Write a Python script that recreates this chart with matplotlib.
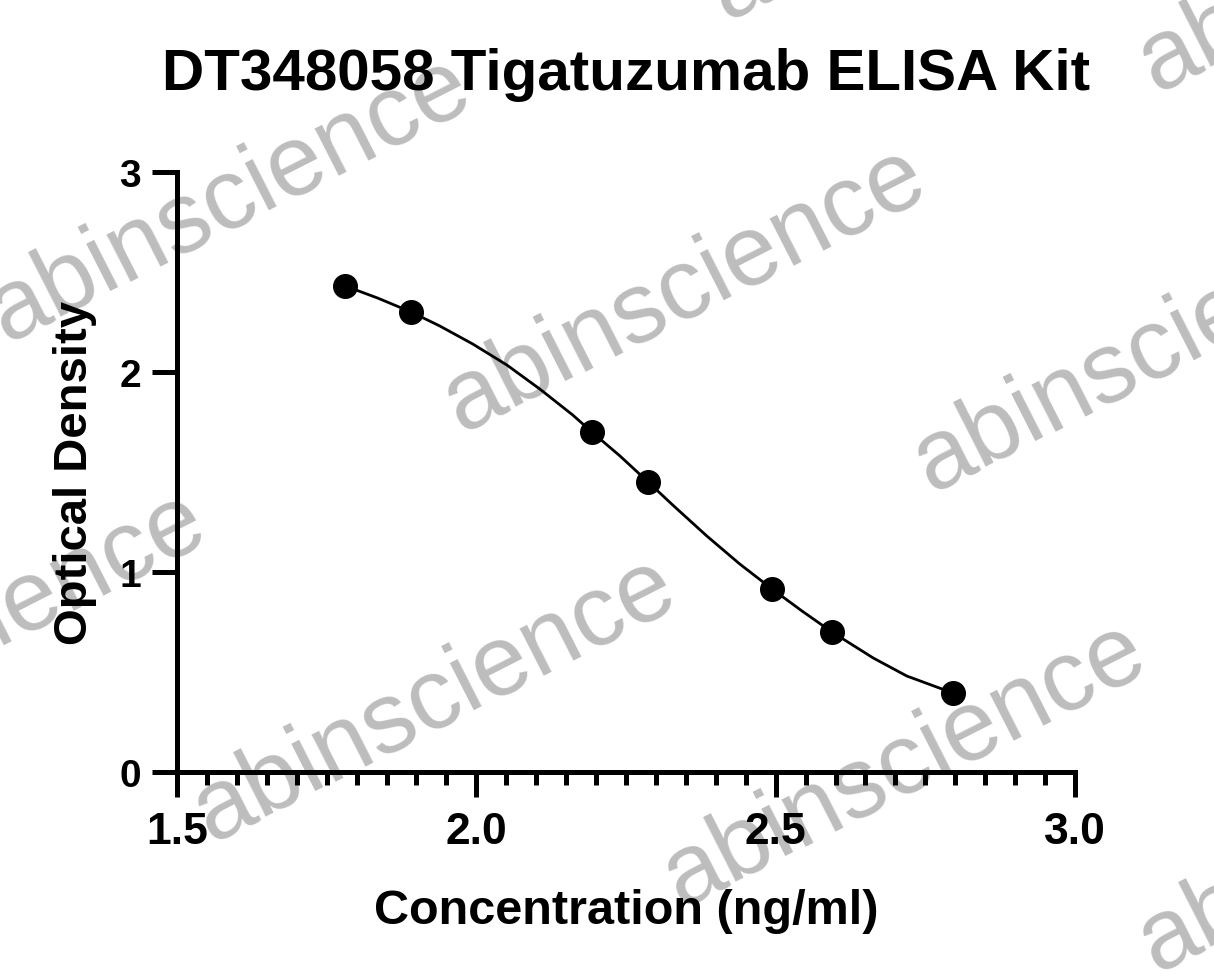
import numpy as np
import matplotlib.pyplot as plt
from matplotlib.ticker import MultipleLocator

# standard points (log concentration, OD)
conc_log = [1.781, 1.891, 2.193, 2.287, 2.494, 2.594, 2.796]
od = [2.43, 2.30, 1.70, 1.45, 0.915, 0.70, 0.395]

# fitted curve
curve_x = [1.781, 1.835, 1.891, 1.939, 1.994, 2.051, 2.106, 2.161, 2.193, 2.24,
           2.287, 2.328, 2.385, 2.440, 2.494, 2.544, 2.594, 2.663, 2.719, 2.796]
curve_y = [2.43, 2.37, 2.30, 2.23, 2.14, 2.035, 1.915, 1.785, 1.70, 1.58,
           1.45, 1.335, 1.18, 1.04, 0.915, 0.805, 0.70, 0.57, 0.48, 0.395]

x_ticks = [1.5, 2.0, 2.5, 3.0]
y_ticks = [0, 1, 2, 3]

plt.rcParams['font.family'] = ['Liberation Sans', 'DejaVu Sans']
plt.rcParams['font.weight'] = 'bold'

W, H = 1214, 978
fig = plt.figure(figsize=(W / 100, H / 100), dpi=100)
ax = fig.add_axes([177 / W, 1 - 773 / H, (1075 - 177) / W, (773 - 173) / H])
ax.set_facecolor('none')

ax.plot(curve_x, curve_y, color='black', lw=2, zorder=3)
ax.plot(conc_log, od, 'o', color='black', ms=17, zorder=4)

ax.set_xlim(1.5, 3.0)
ax.set_ylim(0, 3)
ax.set_xticks(x_ticks)
ax.set_xticklabels(['%.1f' % v for v in x_ticks])
ax.set_yticks(y_ticks)
ax.xaxis.set_minor_locator(MultipleLocator(0.05))

for side in ['top', 'right']:
    ax.spines[side].set_visible(False)
for side in ['left', 'bottom']:
    ax.spines[side].set_linewidth(3.6)
ax.tick_params(which='major', length=18, width=3.6, pad=8)
ax.tick_params(which='minor', length=9, width=3.6)
ax.tick_params(axis='x', labelsize=32, pad=10)
ax.tick_params(axis='y', labelsize=28, pad=8)
for lab in ax.get_xticklabels() + ax.get_yticklabels():
    lab.set_fontweight('bold')

ax.set_xlabel('Concentration (ng/ml)', fontsize=35, fontweight='bold', labelpad=26)
ax.set_ylabel('Optical Density', fontsize=34, fontweight='bold', labelpad=16)
fig.text(626 / W, 1 - 75 / H, 'DT348058 Tigatuzumab ELISA Kit', fontsize=42,
         fontweight='bold', ha='center', va='center')

# watermarks, behind the chart
wm_pos = [(230, 200), (685, 290), (1155, 350), (-35, 635), (435, 700),
          (905, 765), (1380, 830), (1380, -50), (950, -122)]
for px, py in wm_pos:
    fig.text(px / W, 1 - py / H, 'abinscience', fontsize=72, fontweight='normal',
             color='#bdbdbd', rotation=27, ha='center', va='center',
             rotation_mode='anchor', zorder=-1)

fig.savefig('out.png', dpi=100)
